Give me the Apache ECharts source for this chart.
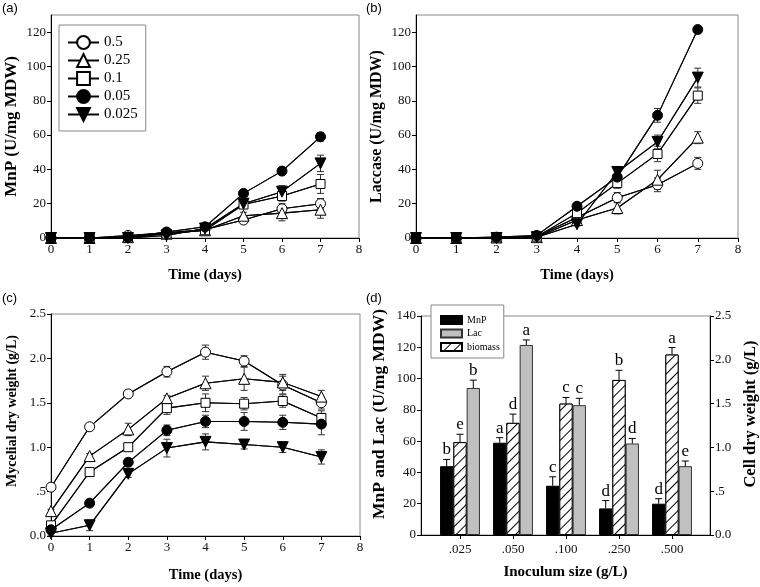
<!DOCTYPE html>
<html><head><meta charset="utf-8">
<script src="https://cdn.jsdelivr.net/npm/echarts@6/dist/echarts.min.js"></script>
<style>html,body{margin:0;padding:0;background:#fff}#c{width:760px;height:587px}</style>
</head><body><div id="c"></div>
<script>
// ---------- data ----------
const days = [0, 1, 2, 3, 4, 5, 6, 7];
const groupNames = ['0.5', '0.25', '0.1', '0.05', '0.025'];

// (a) MnP (U/mg MDW)
const mnp_05   = [0, 0, 1.5, 3, 5, 10.5, 17, 20];
const mnp_025  = [0, 0, 0.5, 2.5, 4.5, 13, 14.5, 16.5];
const mnp_01   = [0, 0, 0.3, 2.5, 4.5, 19.5, 24.5, 31.5];
const mnp_005  = [0, 0, 0.5, 3.5, 6.5, 26, 39, 59];
const mnp_0025 = [0, 0, 0, 1.5, 5.5, 20, 27, 43.5];
const mnpErr_05   = [0.3, 0.3, 0.5, 0.8, 1, 2, 3, 3];
const mnpErr_025  = [0.3, 0.3, 0.3, 0.8, 1, 2, 4.5, 5];
const mnpErr_01   = [0.3, 0.3, 0.3, 0.8, 1, 1.5, 3, 5.5];
const mnpErr_005  = [0.3, 0.3, 0.3, 0.8, 1, 1.5, 1.5, 2.5];
const mnpErr_0025 = [0.3, 0.3, 0.3, 0.8, 1, 2, 3.5, 4.8];

// (b) Laccase (U/mg MDW)
const lac_05   = [0, 0, 0.3, 1, 12, 23.5, 31, 43.5];
const lac_025  = [0, 0, 0.3, 0.5, 10.5, 17.5, 34, 58.5];
const lac_01   = [0, 0, 0.3, 0.8, 14.5, 32, 49, 83];
const lac_005  = [0, 0, 0.5, 1.5, 18.5, 35.5, 71.5, 121.5];
const lac_0025 = [0, 0, 0, 0.5, 8, 38.5, 56, 93.5];
const lacErr_05   = [0.3, 0.3, 0.3, 0.5, 1.5, 3, 4, 3.5];
const lacErr_025  = [0.3, 0.3, 0.3, 0.5, 1.5, 3.5, 5.5, 3.5];
const lacErr_01   = [0.3, 0.3, 0.3, 0.5, 1.5, 3, 4.5, 4.5];
const lacErr_005  = [0.3, 0.3, 0.3, 0.5, 1.5, 3.5, 4, 2];
const lacErr_0025 = [0.3, 0.3, 0.3, 0.5, 1, 3, 4, 5.5];

// (c) Mycelial dry weight (g/L)
const bio_05   = [0.55, 1.23, 1.60, 1.85, 2.07, 1.97, 1.70, 1.50];
const bio_025  = [0.28, 0.90, 1.20, 1.55, 1.72, 1.77, 1.73, 1.57];
const bio_01   = [0.12, 0.72, 1.00, 1.44, 1.50, 1.49, 1.52, 1.33];
const bio_005  = [0.07, 0.37, 0.83, 1.19, 1.29, 1.29, 1.28, 1.26];
const bio_0025 = [0.03, 0.12, 0.70, 0.99, 1.06, 1.03, 1.00, 0.89];
const bioErr_05   = [0.02, 0.03, 0.03, 0.06, 0.08, 0.06, 0.10, 0.07];
const bioErr_025  = [0.02, 0.03, 0.07, 0.03, 0.08, 0.13, 0.09, 0.07];
const bioErr_01   = [0.02, 0.03, 0.03, 0.07, 0.10, 0.07, 0.07, 0.08];
const bioErr_005  = [0.02, 0.03, 0.04, 0.06, 0.07, 0.10, 0.08, 0.12];
const bioErr_0025 = [0.02, 0.06, 0.04, 0.10, 0.09, 0.05, 0.06, 0.08];

// (d) bars
const inoculum = ['.025', '.050', '.100', '.250', '.500'];
const mnpBar = [44, 59, 31.5, 17, 20];
const mnpBarErr = [4.3, 3.2, 5.7, 5, 3.2];
const lacBar = [94, 121.5, 83, 58.5, 44];
const lacBarErr = [5, 3.2, 4.4, 3.2, 3.3];
const bioBar = [1.06, 1.28, 1.50, 1.77, 2.06];
const bioBarErr = [0.09, 0.10, 0.07, 0.11, 0.08];
const mnpLetters = ['b', 'a', 'c', 'd', 'd'];
const bioLetters = ['e', 'd', 'c', 'b', 'a'];
const lacLetters = ['b', 'a', 'c', 'd', 'e'];

// ticks
const yTicksEnz = [0, 20, 40, 60, 80, 100, 120];
const yTicksBarL = [0, 20, 40, 60, 80, 100, 120, 140];
const yTicksBio = [0, 0.5, 1, 1.5, 2, 2.5];
const yTickLabelsBio = ['0.0', '.5', '1.0', '1.5', '2.0', '2.5'];

// ---------- styling ----------
const SERIF = 'Liberation Serif';
const LINE_COLOR = '#050505';
const LINE_W = 1.05;
const styles = [
  { symbol: 'circle', size: 10, fill: '#fff' },
  { symbol: 'triangle', size: 11, fill: '#fff' },
  { symbol: 'rect', size: 9, fill: '#fff' },
  { symbol: 'circle', size: 10, fill: '#000' },
  { symbol: 'path://M0,0L10,0L5,9Z', size: 11, fill: '#000' }
];
const labelFont = { fontFamily: SERIF, fontSize: 13, color: '#111' };
const nameFont = (s, pad) => ({ fontFamily: SERIF, fontWeight: 'bold', fontSize: s, color: '#000', padding: pad || 0 });
const gridStyle = { show: true, borderColor: '#888', borderWidth: 1, backgroundColor: 'transparent' };

function timeAxis(gridIndex, gap) {
  return {
    type: 'value', gridIndex, min: 0, max: 8, interval: 1,
    axisLine: { show: true, lineStyle: { color: '#000' } },
    axisTick: { show: true, length: 4, lineStyle: { color: '#000' } },
    axisLabel: Object.assign({ margin: 5 }, labelFont),
    splitLine: { show: false },
    name: 'Time (days)', nameLocation: 'middle', nameGap: gap, nameTextStyle: nameFont(14.5)
  };
}
function valAxis(gridIndex, min, max, ticks, labels, name, gap, fs, pos, pad) {
  return {
    type: 'value', gridIndex, min, max, position: pos || 'left',
    axisLine: { show: true, lineStyle: { color: '#000' } },
    axisTick: { show: true, length: 4, lineStyle: { color: '#000' }, customValues: ticks },
    axisLabel: Object.assign({ margin: 5, customValues: ticks,
      formatter: labels ? (v) => { const i = ticks.indexOf(v); return i >= 0 ? labels[i] : ''; } : undefined }, labelFont),
    splitLine: { show: false },
    name, nameLocation: 'middle', nameGap: gap, nameTextStyle: nameFont(fs, pad)
  };
}

function lineSeries(name, vals, xi, yi, st) {
  return {
    type: 'line', name, xAxisIndex: xi, yAxisIndex: yi, zlevel: 1,
    data: days.map((d, i) => [d, vals[i]]),
    symbol: st.symbol, symbolSize: st.size, showSymbol: true,
    itemStyle: { color: st.fill, borderColor: '#000', borderWidth: 1 },
    lineStyle: { color: LINE_COLOR, width: LINE_W, type: 'solid', opacity: 1 }, z: 3
  };
}
// connecting segments between consecutive points (drawn through the axes' scales)
function segSeries(xi, yi, vals) {
  return {
    type: 'custom', xAxisIndex: xi, yAxisIndex: yi, zlevel: 1, z: 2, silent: true,
    data: days.slice(0, -1).map((d, i) => [d, vals[i], days[i + 1], vals[i + 1]]),
    renderItem(params, api) {
      const p0 = api.coord([api.value(0), api.value(1)]);
      const p1 = api.coord([api.value(2), api.value(3)]);
      return { type: 'group', children: [
        { type: 'polyline', shape: { points: [p0, p1] },
          style: { stroke: LINE_COLOR, lineWidth: LINE_W, fill: null, lineDash: null, opacity: 1 } }
      ] };
    }
  };
}
function errSeries(xi, yi, vals, errs) {
  return {
    type: 'custom', xAxisIndex: xi, yAxisIndex: yi, zlevel: 1, z: 1, silent: true,
    data: days.map((d, i) => [d, vals[i], errs[i]]),
    renderItem(params, api) {
      const x = api.value(0), v = api.value(1), e = api.value(2);
      const t = api.coord([x, v + e]), b = api.coord([x, Math.max(0, v - e)]);
      const cx = t[0], hw = 3.5, st = { stroke: '#333', lineWidth: 1 };
      return { type: 'group', children: [
        { type: 'line', shape: { x1: cx, y1: t[1], x2: cx, y2: b[1] }, style: st },
        { type: 'line', shape: { x1: cx - hw, y1: t[1], x2: cx + hw, y2: t[1] }, style: st },
        { type: 'line', shape: { x1: cx - hw, y1: b[1], x2: cx + hw, y2: b[1] }, style: st }
      ] };
    }
  };
}
const BAR_W = 13.3;
function barErrSeries(yi, vals, errs, letters, offset) {
  return {
    type: 'custom', xAxisIndex: 4, yAxisIndex: yi, z: 5, silent: true,
    data: vals.map((v, i) => [i, v, errs[i]]),
    renderItem(params, api) {
      const x = api.value(0), v = api.value(1), e = api.value(2);
      const t = api.coord([x, v + e]), b = api.coord([x, v]);
      const cx = t[0] + offset, hw = 3.5, st = { stroke: '#000', lineWidth: 1 };
      return { type: 'group', children: [
        { type: 'line', shape: { x1: cx, y1: t[1], x2: cx, y2: b[1] }, style: st },
        { type: 'line', shape: { x1: cx - hw, y1: t[1], x2: cx + hw, y2: t[1] }, style: st },
        { type: 'text', x: cx, y: t[1] - 1, style: { text: letters[params.dataIndex], fontFamily: SERIF, fontSize: 17, fill: '#000', align: 'center', verticalAlign: 'bottom' } }
      ] };
    }
  };
}

const mnpVals = [mnp_05, mnp_025, mnp_01, mnp_005, mnp_0025];
const mnpErrs = [mnpErr_05, mnpErr_025, mnpErr_01, mnpErr_005, mnpErr_0025];
const lacVals = [lac_05, lac_025, lac_01, lac_005, lac_0025];
const lacErrs = [lacErr_05, lacErr_025, lacErr_01, lacErr_005, lacErr_0025];
const bioVals = [bio_05, bio_025, bio_01, bio_005, bio_0025];
const bioErrs = [bioErr_05, bioErr_025, bioErr_01, bioErr_005, bioErr_0025];

const series = [];
groupNames.forEach((n, k) => series.push(lineSeries(n, mnpVals[k], 0, 0, styles[k])));
groupNames.forEach((n, k) => series.push(lineSeries(n, lacVals[k], 1, 1, styles[k])));
groupNames.forEach((n, k) => series.push(lineSeries(n, bioVals[k], 2, 2, styles[k])));
groupNames.forEach((n, k) => {
  series.push(segSeries(0, 0, mnpVals[k]));
  series.push(segSeries(1, 1, lacVals[k]));
  series.push(segSeries(2, 2, bioVals[k]));
  series.push(errSeries(0, 0, mnpVals[k], mnpErrs[k]));
  series.push(errSeries(1, 1, lacVals[k], lacErrs[k]));
  series.push(errSeries(2, 2, bioVals[k], bioErrs[k]));
});
series.push({ type: 'bar', name: 'MnP', xAxisIndex: 4, yAxisIndex: 5, data: mnpBar, barWidth: BAR_W, barGap: '0%',
  itemStyle: { color: '#000', borderColor: '#000', borderWidth: 1 } });
series.push({ type: 'bar', name: 'biomass', xAxisIndex: 4, yAxisIndex: 6, data: bioBar, barWidth: BAR_W, barGap: '0%',
  itemStyle: { color: '#fff', borderColor: '#000', borderWidth: 1,
    decal: { symbol: 'rect', symbolSize: 1, color: '#000', backgroundColor: '#fff', dashArrayX: [1, 0], dashArrayY: [1, 5.5], rotation: -Math.PI / 4 } } });
series.push({ type: 'bar', name: 'Lac', xAxisIndex: 4, yAxisIndex: 5, data: lacBar, barWidth: BAR_W, barGap: '0%',
  itemStyle: { color: '#c0c0c0', borderColor: '#333', borderWidth: 1 } });
series.push(barErrSeries(5, mnpBar, mnpBarErr, mnpLetters, -BAR_W));
series.push(barErrSeries(6, bioBar, bioBarErr, bioLetters, 0));
series.push(barErrSeries(5, lacBar, lacBarErr, lacLetters, BAR_W));

const option = {
  animation: false,
  backgroundColor: '#fff',
  grid: [
    Object.assign({ left: 51, top: 15, width: 308, height: 223 }, gridStyle),
    Object.assign({ left: 416, top: 15, width: 322, height: 223 }, gridStyle),
    Object.assign({ left: 51, top: 314, width: 309, height: 222 }, gridStyle),
    Object.assign({ left: 421, top: 316, width: 289, height: 219 }, gridStyle),
    { left: 433.5, top: 316, width: 265, height: 219, show: false }
  ],
  xAxis: [
    timeAxis(0, 30), timeAxis(1, 30), timeAxis(2, 32),
    { type: 'value', gridIndex: 3, min: 0, max: 1, axisLine: { show: true, lineStyle: { color: '#000' } },
      axisTick: { show: false }, axisLabel: { show: false }, splitLine: { show: false },
      name: 'Inoculum size (g/L)', nameLocation: 'middle', nameGap: 30, nameTextStyle: nameFont(15) },
    { type: 'category', gridIndex: 4, data: inoculum, axisLine: { show: false },
      axisTick: { show: true, alignWithLabel: true, length: 4, lineStyle: { color: '#000' } },
      axisLabel: Object.assign({ margin: 8 }, labelFont), splitLine: { show: false } }
  ],
  yAxis: [
    valAxis(0, 0, 130, yTicksEnz, null, 'MnP (U/mg MDW)', 31, 17),
    valAxis(1, 0, 130, yTicksEnz, null, 'Laccase (U/mg MDW)', 31, 16),
    valAxis(2, 0, 2.5, yTicksBio, yTickLabelsBio, 'Mycelial dry weight (g/L)', 32, 14, 'left', [0, 0, 0, 28]),
    valAxis(3, 0, 140, yTicksBarL, null, 'MnP and Lac (U/mg MDW)', 33, 17.5, 'left', [0, 0, 0, 23]),
    valAxis(3, 0, 2.5, yTicksBio, yTickLabelsBio, 'Cell dry weight (g/L)', 32, 16.5, 'right', [0, 0, 0, 23]),
    { type: 'value', gridIndex: 4, min: 0, max: 140, show: false },
    { type: 'value', gridIndex: 4, min: 0, max: 2.5, show: false }
  ],
  legend: [
    { data: groupNames, orient: 'vertical', left: 59, top: 25, padding: [10, 8, 9, 8],
      itemWidth: 31, itemHeight: 16, itemGap: 3, selectedMode: false,
      borderColor: '#888', borderWidth: 1, backgroundColor: '#fff',
      textStyle: { fontFamily: SERIF, fontSize: 15, color: '#000' } },
    { data: ['MnP', 'Lac', 'biomass'], orient: 'vertical', left: 431, top: 305, padding: [10, 4, 6, 9],
      itemWidth: 21, itemHeight: 8, itemGap: 3.5, icon: 'rect', selectedMode: false,
      borderColor: '#888', borderWidth: 1, backgroundColor: '#fff',
      textStyle: { fontFamily: SERIF, fontSize: 10, color: '#000' } }
  ],
  graphic: [
    { type: 'text', left: 2, top: 2, style: { text: '(a)', font: '13px "Liberation Sans"', fill: '#000' } },
    { type: 'text', left: 366, top: 2, style: { text: '(b)', font: '13px "Liberation Sans"', fill: '#000' } },
    { type: 'text', left: 2, top: 292, style: { text: '(c)', font: '13px "Liberation Sans"', fill: '#000' } },
    { type: 'text', left: 366, top: 292, style: { text: '(d)', font: '13px "Liberation Sans"', fill: '#000' } }
  ],
  series
};
const chart = echarts.init(document.getElementById('c'), null, { renderer: 'canvas' });
chart.setOption(option);
</script></body></html>
